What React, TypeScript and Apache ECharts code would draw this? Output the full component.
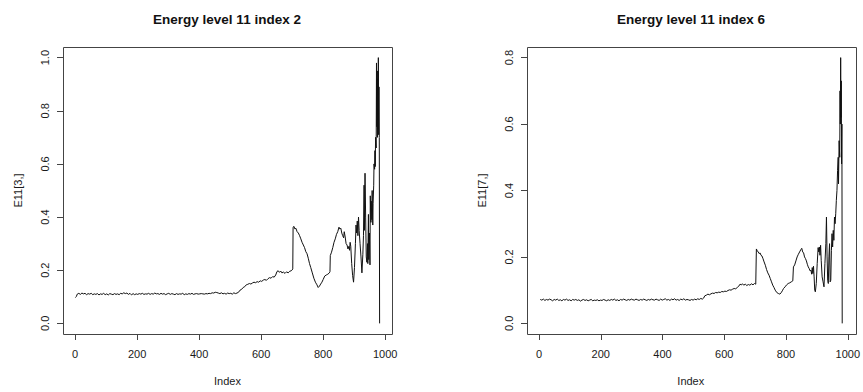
import React, { useEffect, useRef } from "react";
import * as echarts from "echarts";

// ---- Data ----
const xTickValues = [0, 200, 400, 600, 800, 1000];
const leftYTicks = [0, 0.2, 0.4, 0.6, 0.8, 1.0];
const rightYTicks = [0, 0.2, 0.4, 0.6, 0.8];

const leftTitle = "Energy level 11 index 2";
const rightTitle = "Energy level 11 index 6";
const leftYName = "E11[3,]";
const rightYName = "E11[7,]";
const xName = "Index";

// E11[3,] : index / value
const leftIndex = [
  1, 4, 7, 12, 17, 22, 27, 32, 37, 42, 47, 52, 57, 62, 67, 72, 77, 82, 87, 92, 97, 102, 107, 112, 117, 122, 127,
  132, 137, 142, 147, 152, 157, 162, 167, 172, 177, 182, 187, 192, 197, 202, 207, 212, 217, 222, 227, 232, 237,
  242, 247, 252, 257, 262, 267, 272, 277, 282, 287, 292, 297, 302, 307, 312, 317, 322, 327, 332, 337, 342, 347,
  352, 357, 362, 367, 372, 377, 382, 387, 392, 397, 402, 407, 412, 417, 422, 427, 432, 437, 442, 447, 452, 457,
  462, 467, 472, 477, 482, 487, 492, 497, 502, 507, 512, 517, 522, 527,
  532, 537, 542, 547, 552, 557, 562, 567, 572, 577, 582, 587, 592, 597, 602, 607, 612, 617, 622, 627, 632, 637,
  642, 647, 651, 655, 659, 663, 667, 672, 677, 682, 687, 692, 697, 700, 702,
  703, 706, 709, 712, 716, 720, 724, 728, 732, 736, 740, 744, 748, 752, 756, 760, 765, 770, 775, 780, 784, 788,
  792, 796, 800, 805, 810, 815, 820, 822,
  823, 827, 831, 835, 839, 843, 847, 851, 854, 857, 860, 863, 866, 868, 871, 874, 877, 880, 883, 885, 887, 889,
  892, 895, 898, 901, 904, 906, 908, 910, 912, 914, 916, 919, 922, 925, 928, 930, 932, 933, 935, 937, 939, 941,
  943, 944, 946, 947, 949, 951, 952, 954, 955, 957, 958, 960, 961, 963, 964, 966, 967, 968, 969, 971, 972, 973,
  974, 975, 976, 977, 978, 979, 980, 981, 982,
];
const leftValue = [
  0.097, 0.101, 0.110, 0.113, 0.109, 0.114, 0.111, 0.113, 0.108, 0.112, 0.110, 0.113, 0.108, 0.111, 0.109, 0.112,
  0.107, 0.111, 0.109, 0.113, 0.108, 0.111, 0.107, 0.112, 0.110, 0.108, 0.112, 0.109, 0.111, 0.108, 0.113, 0.111,
  0.115, 0.112, 0.114, 0.109, 0.113, 0.107, 0.112, 0.108, 0.111, 0.109, 0.112, 0.110, 0.113, 0.109, 0.111, 0.110,
  0.113, 0.109, 0.112, 0.110, 0.114, 0.111, 0.112, 0.109, 0.113, 0.110, 0.112, 0.108, 0.111, 0.113, 0.109, 0.112,
  0.110, 0.108, 0.112, 0.109, 0.111, 0.110, 0.113, 0.108, 0.111, 0.109, 0.112, 0.110, 0.113, 0.109, 0.111, 0.112,
  0.110, 0.111, 0.112, 0.111, 0.110, 0.112, 0.111, 0.113, 0.112, 0.115, 0.114, 0.117, 0.116, 0.114, 0.112, 0.115,
  0.111, 0.113, 0.110, 0.114, 0.112, 0.113, 0.110, 0.115, 0.112, 0.114, 0.117,
  0.125, 0.128, 0.135, 0.138, 0.145, 0.147, 0.150, 0.148, 0.152, 0.155, 0.153, 0.157, 0.155, 0.160, 0.158, 0.163,
  0.165, 0.162, 0.168, 0.172, 0.170, 0.176, 0.174, 0.182, 0.195, 0.198, 0.192, 0.197, 0.190, 0.193, 0.188, 0.194,
  0.190, 0.196, 0.198, 0.201, 0.205,
  0.362, 0.365, 0.355, 0.358, 0.345, 0.340, 0.330, 0.318, 0.305, 0.295, 0.285, 0.270, 0.262, 0.245, 0.225, 0.210,
  0.190, 0.170, 0.155, 0.145, 0.135, 0.140, 0.148, 0.155, 0.165, 0.178, 0.182, 0.185, 0.190, 0.195,
  0.255, 0.268, 0.285, 0.305, 0.318, 0.335, 0.345, 0.362, 0.355, 0.358, 0.340, 0.330, 0.322, 0.345, 0.325, 0.300,
  0.295, 0.280, 0.290, 0.275, 0.305, 0.290, 0.225, 0.180, 0.155, 0.210, 0.300, 0.370, 0.340, 0.385, 0.330, 0.400,
  0.350, 0.300, 0.250, 0.190, 0.260, 0.330, 0.520, 0.350, 0.565, 0.400, 0.250, 0.230, 0.300, 0.225, 0.410, 0.240,
  0.340, 0.220, 0.480, 0.380, 0.460, 0.390, 0.500, 0.370, 0.450, 0.520, 0.600, 0.580, 0.650, 0.590, 0.700, 0.660,
  0.980, 0.740, 0.920, 0.700, 0.950, 0.730, 1.000, 0.710, 0.890, 0.700, 0.000,
];

// E11[7,] : index / value
const rightIndex = [
  4, 9, 14, 19, 24, 29, 34, 39, 44, 49, 54, 59, 64, 69, 74, 79, 84, 89, 94, 99, 104, 109, 114, 119, 124, 129, 134,
  139, 144, 149, 154, 159, 164, 169, 174, 179, 184, 189, 194, 199, 204, 209, 214, 219, 224, 229, 234, 239, 244,
  249, 254, 259, 264, 269, 274, 279, 284, 289, 294, 299, 304, 309, 314, 319, 324, 329, 334, 339, 344, 349, 354,
  359, 364, 369, 374, 379, 384, 389, 394, 399, 404, 409, 414, 419, 424, 429, 434, 439, 444, 449, 454, 459, 464,
  469, 474, 479, 484, 489, 494, 499, 504, 509, 514, 519, 524, 529, 533,
  537, 542, 547, 552, 557, 562, 567, 572, 577, 582, 587, 592, 597, 602, 607, 612, 617, 622, 627, 632, 637, 642,
  647, 651, 655, 659, 663, 668, 673, 678, 683, 688, 693, 698, 702,
  704, 707, 710, 713, 716, 719, 722, 725, 729, 733, 737, 741, 745, 749, 753, 757, 761, 765, 770, 775, 780, 784,
  788, 792, 797, 802, 807, 812, 817, 822,
  824, 828, 832, 836, 840, 844, 848, 851, 854, 857, 860, 863, 866, 869, 872, 875, 878, 881, 883, 885, 887, 889,
  891, 893, 895, 898, 901, 904, 906, 908, 910, 912, 914, 917, 920, 923, 926, 929, 931, 933, 935, 937, 939, 941,
  943, 945, 947, 949, 951, 953, 955, 957, 959, 961, 963, 965, 967, 969, 970, 972, 974, 975, 976, 977, 978, 979,
  980, 981, 982,
];
const rightValue = [
  0.072, 0.070, 0.073, 0.069, 0.072, 0.070, 0.073, 0.071, 0.068, 0.072, 0.070, 0.073, 0.069, 0.071, 0.068, 0.072,
  0.070, 0.073, 0.069, 0.071, 0.068, 0.072, 0.070, 0.072, 0.069, 0.071, 0.067, 0.070, 0.072, 0.069, 0.071, 0.068,
  0.070, 0.072, 0.068, 0.070, 0.069, 0.071, 0.068, 0.070, 0.069, 0.072, 0.070, 0.068, 0.071, 0.069, 0.072, 0.070,
  0.073, 0.069, 0.071, 0.068, 0.072, 0.070, 0.073, 0.071, 0.069, 0.072, 0.070, 0.073, 0.071, 0.070, 0.073, 0.071,
  0.069, 0.072, 0.070, 0.073, 0.071, 0.069, 0.072, 0.070, 0.073, 0.071, 0.070, 0.073, 0.071, 0.069, 0.073, 0.070,
  0.072, 0.074, 0.070, 0.072, 0.069, 0.073, 0.071, 0.074, 0.070, 0.072, 0.069, 0.073, 0.071, 0.074, 0.070, 0.072,
  0.071, 0.069, 0.072, 0.070, 0.073, 0.071, 0.074, 0.072, 0.075, 0.073, 0.076,
  0.083, 0.085, 0.088, 0.086, 0.089, 0.091, 0.090, 0.093, 0.092, 0.094, 0.093, 0.096, 0.095, 0.097, 0.096, 0.099,
  0.101, 0.100, 0.103, 0.105, 0.104, 0.108, 0.112, 0.118, 0.116, 0.119, 0.115, 0.118, 0.114, 0.117, 0.115, 0.119,
  0.116, 0.120, 0.118,
  0.224, 0.218, 0.215, 0.210, 0.212, 0.205, 0.203, 0.196, 0.185, 0.175, 0.162, 0.152, 0.145, 0.135, 0.125, 0.115,
  0.108, 0.100, 0.093, 0.090, 0.088, 0.092, 0.098, 0.105, 0.110, 0.116, 0.120, 0.122, 0.125, 0.128,
  0.170, 0.176, 0.188, 0.200, 0.208, 0.215, 0.222, 0.226, 0.215, 0.212, 0.200, 0.195, 0.188, 0.178, 0.170, 0.165,
  0.158, 0.160, 0.148, 0.168, 0.150, 0.172, 0.140, 0.100, 0.095, 0.120, 0.180, 0.228, 0.215, 0.230, 0.205, 0.235,
  0.190, 0.140, 0.125, 0.110, 0.180, 0.240, 0.320, 0.200, 0.130, 0.120, 0.200, 0.240, 0.125, 0.130, 0.220, 0.270,
  0.230, 0.280, 0.250, 0.320, 0.300, 0.330, 0.370, 0.400, 0.460, 0.500, 0.420, 0.550, 0.500, 0.700, 0.600, 0.800,
  0.620, 0.730, 0.480, 0.600, 0.000,
];

const FONT = "'Liberation Sans', Arial, Helvetica, sans-serif";
const INK = "#1a1a1a";
const BOX = "#444";

function pairs(xs: number[], ys: number[]): number[][] {
  return xs.map((x, i) => [x, ys[i]]);
}

function xAxisFor(gridIndex: number) {
  return {
    type: "value",
    gridIndex,
    position: "bottom",
    min: -39,
    max: 1022,
    name: xName,
    nameLocation: "middle",
    nameGap: 41,
    nameTextStyle: { fontFamily: FONT, fontSize: 11, color: INK },
    axisLine: { show: false, onZero: false },
    splitLine: { show: false },
    axisTick: {
      show: true,
      inside: false,
      customValues: xTickValues,
      length: 6,
      lineStyle: { color: BOX, width: 1 },
    },
    axisLabel: {
      customValues: xTickValues,
      margin: 14,
      fontFamily: FONT,
      fontSize: 11,
      color: INK,
      formatter: (v: number) => String(v),
    },
  };
}

function yAxisFor(gridIndex: number, ticks: number[], min: number, max: number, name: string) {
  return {
    type: "value",
    gridIndex,
    position: "left",
    min,
    max,
    name,
    nameLocation: "middle",
    nameRotate: 90,
    nameGap: 40,
    nameTextStyle: { fontFamily: FONT, fontSize: 11, color: INK },
    axisLine: { show: false, onZero: false },
    splitLine: { show: false },
    axisTick: {
      show: true,
      inside: false,
      customValues: ticks,
      length: 6,
      lineStyle: { color: BOX, width: 1 },
    },
    axisLabel: {
      customValues: ticks,
      rotate: 90,
      margin: 13,
      fontFamily: FONT,
      fontSize: 11,
      color: INK,
      formatter: (v: number) => v.toFixed(1),
    },
  };
}

export default function App() {
  const ref = useRef<HTMLDivElement>(null);

  useEffect(() => {
    if (!ref.current) return;
    const chart = echarts.init(ref.current, undefined, { renderer: "svg" });
    const titleStyle = { fontFamily: FONT, fontSize: 13.5, fontWeight: "bold", color: "#111" };
    const boxes = [
      { x: 63, y: 47, width: 329, height: 287 },
      { x: 527, y: 47, width: 329, height: 287 },
    ];
    chart.setOption({
      animation: false,
      backgroundColor: "#ffffff",
      title: [
        { text: leftTitle, left: 227, top: 12, textAlign: "center", padding: 0, textStyle: titleStyle },
        { text: rightTitle, left: 691, top: 12, textAlign: "center", padding: 0, textStyle: titleStyle },
      ],
      grid: boxes.map((b) => ({
        left: b.x,
        top: b.y,
        width: b.width,
        height: b.height,
        show: false,
        containLabel: false,
      })),
      graphic: boxes.map((b) => ({
        type: "rect",
        shape: { x: b.x + 0.5, y: b.y + 0.5, width: b.width, height: b.height },
        style: { fill: "none", stroke: BOX, lineWidth: 1 },
        silent: true,
        z: 10,
      })),
      xAxis: [xAxisFor(0), xAxisFor(1)],
      yAxis: [
        yAxisFor(0, leftYTicks, -0.04, 1.04, leftYName),
        yAxisFor(1, rightYTicks, -0.032, 0.832, rightYName),
      ],
      series: [
        {
          type: "line",
          xAxisIndex: 0,
          yAxisIndex: 0,
          data: pairs(leftIndex, leftValue),
          showSymbol: false,
          symbol: "none",
          lineStyle: { color: "#111", width: 1 },
        },
        {
          type: "line",
          xAxisIndex: 1,
          yAxisIndex: 1,
          data: pairs(rightIndex, rightValue),
          showSymbol: false,
          symbol: "none",
          lineStyle: { color: "#111", width: 1 },
        },
      ],
    });
    return () => chart.dispose();
  }, []);

  return (
    <div
      ref={ref}
      style={{ position: "fixed", left: 0, top: 0, width: 863, height: 392, background: "#fff" }}
    />
  );
}
